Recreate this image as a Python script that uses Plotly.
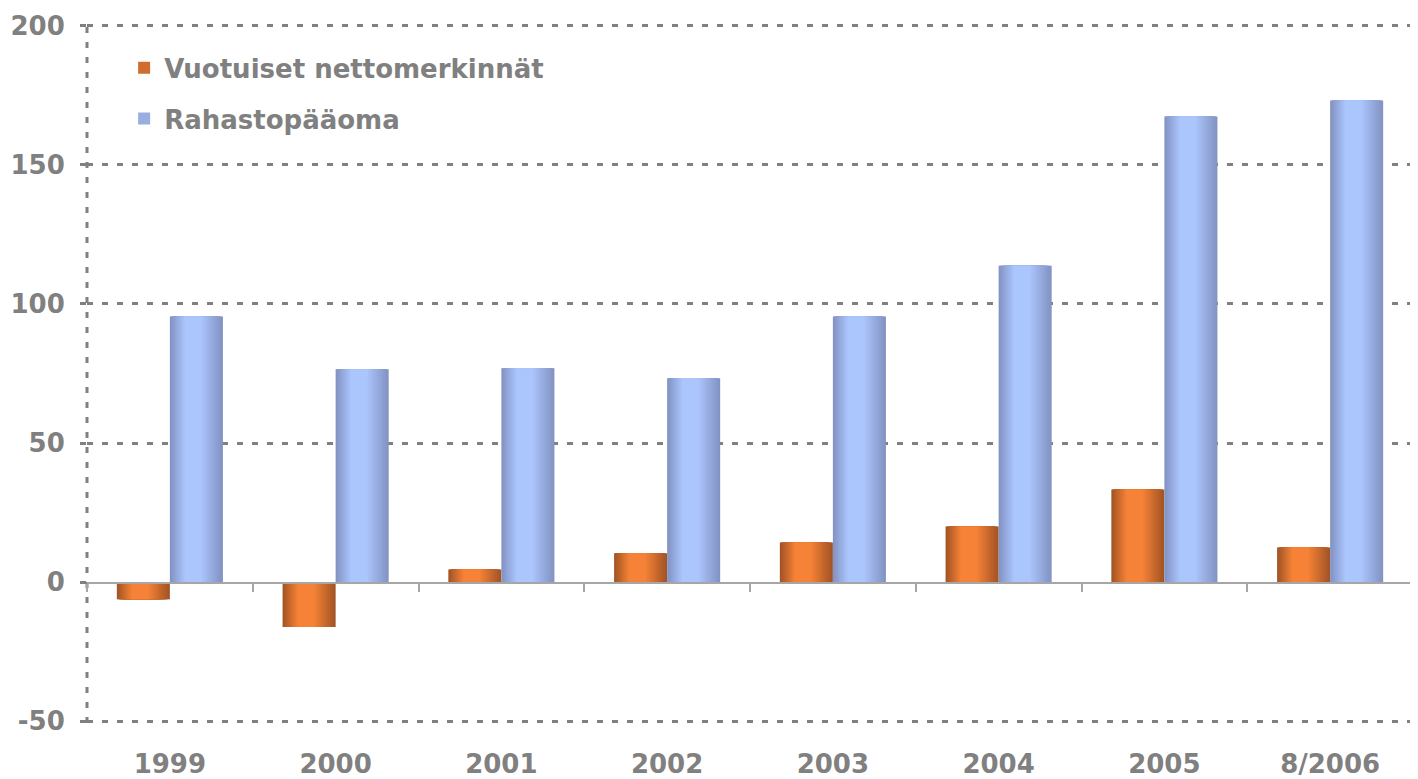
import plotly.graph_objects as go

categories = ["1999", "2000", "2001", "2002", "2003", "2004", "2005", "8/2006"]
netto = [-6.1, -16.1, 4.6, 10.4, 14.3, 20.0, 33.3, 12.5]
paaoma = [95.5, 76.5, 76.9, 73.3, 95.5, 113.7, 167.4, 173.1]
series_names = ["Vuotuiset nettomerkinnät", "Rahastopääoma"]
y_ticks = [-50, 0, 50, 100, 150, 200]
y_ticktext = ["-50", "0", "50", "100", "150", "200"]
grid_vals = [v for v in y_ticks if v != 0]

GREY = "#808080"
FONT = "DejaVu Sans"
FS = 26
YR = [-50.6, 200.6]
xi = list(range(len(categories)))

def mix(c1, c2, t):
    a = [int(c1[i:i + 2], 16) for i in (1, 3, 5)]
    b = [int(c2[i:i + 2], 16) for i in (1, 3, 5)]
    return "#" + "".join(f"{round(a[j] + (b[j] - a[j]) * t):02x}" for j in range(3))

fig = go.Figure()
W = 0.32
N = 16
specs = [
    (netto, series_names[0], -W, "#a35426", "#f58236"),
    (paaoma, series_names[1], 0.0, "#8393c2", "#abc5fd"),
]
for vals, name, start, dark, bright in specs:
    for k in range(N):
        t = k / (N - 1)
        left = 0.28 * t
        right = 1 - 0.40 * t
        fig.add_trace(go.Bar(
            x=xi, y=vals, width=W * (right - left), offset=start + W * left,
            marker=dict(color=mix(dark, bright, t), line=dict(width=0)),
            name=name, legendgroup=name,
            showlegend=(k == N // 2), hoverinfo="skip" if k else "x+y",
        ))

fig.add_trace(go.Scatter(x=xi, y=[None] * len(xi), xaxis="x2", yaxis="y2",
                         showlegend=False, hoverinfo="skip", mode="markers"))

fig.update_layout(
    width=1410, height=771,
    margin=dict(l=79, r=5, t=16, b=56, autoexpand=False),
    paper_bgcolor="white", plot_bgcolor="white",
    barmode="overlay",
    font=dict(family=FONT, color=GREY, size=FS),
    legend=dict(x=0.028, y=0.971, xanchor="left", yanchor="top",
                bgcolor="rgba(0,0,0,0)", tracegroupgap=14,
                font=dict(family=FONT, size=FS, color=GREY, weight="bold"),
                itemwidth=30),
    xaxis=dict(range=[-0.5, 7.5], anchor="free", position=0.2,
               showline=True, linecolor="#a6a6a6", linewidth=1.5,
               tickvals=[i + 0.5 for i in range(-1, 8)], showticklabels=False,
               ticks="outside", ticklen=8, tickcolor="#a6a6a6", tickwidth=1.5,
               showgrid=False, zeroline=False, automargin=False),
    xaxis2=dict(range=[-0.5, 7.5], overlaying="x", anchor="y", side="bottom",
                tickvals=xi, ticktext=categories, ticks="",
                showline=False, showgrid=False, zeroline=False, automargin=False,
                tickfont=dict(family=FONT, size=FS, color=GREY, weight="bold"),
                ticklabelstandoff=23),
    yaxis=dict(range=YR, tickvals=grid_vals, showticklabels=False, ticks="",
               showgrid=True, gridcolor=GREY, gridwidth=3, griddash="6px,9px",
               zeroline=False, showline=False, automargin=False),
    yaxis2=dict(range=YR, overlaying="y", anchor="x", side="left",
                tickvals=y_ticks, ticktext=y_ticktext,
                showgrid=False, zeroline=False, showline=False, automargin=False,
                ticks="outside", ticklen=6, tickcolor=GREY, tickwidth=3,
                tickfont=dict(family=FONT, size=FS, color=GREY, weight="bold"),
                ticklabelstandoff=10),
    shapes=[dict(type="line", xref="paper", yref="paper", x0=0, x1=0, y0=0, y1=1,
                 line=dict(color=GREY, width=3, dash="6px,9px"), layer="below")],
)

fig.write_html("out.html")
